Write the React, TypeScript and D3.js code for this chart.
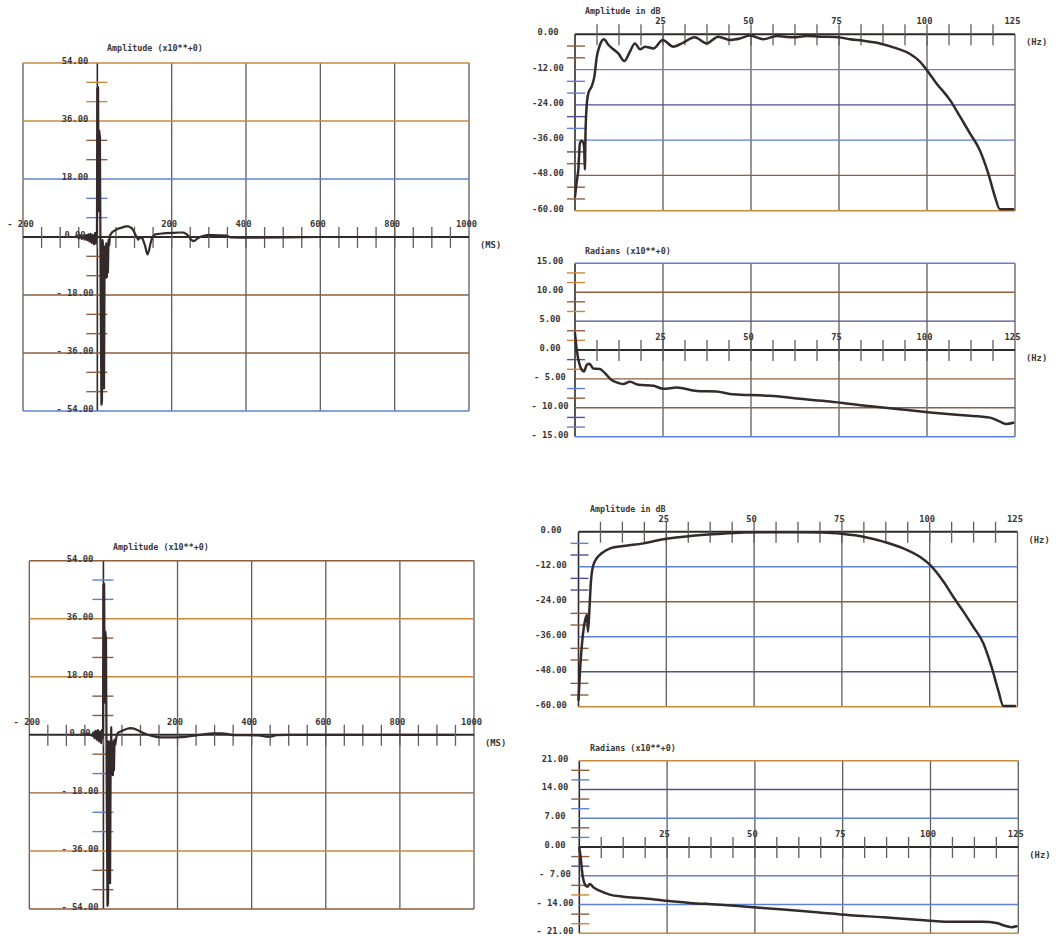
import React from 'react';
import * as d3 from 'd3';

// ---------- DATA ----------
// Impulse response 1: [time ms, amplitude]
const IMPULSE_1: [number, number][] = [
  [-60, 0], [-55, 0.3], [-50, -0.4], [-46, 0.5], [-42, -0.6], [-38, 0.4], [-34, -0.8], [-30, 0.6],
  [-27, -1], [-24, 0.8], [-21, -1.4], [-18, 1], [-15, -1.8], [-12, 0.6], [-9, -2.2], [-6, 1.2],
  [-4, -2], [-2, 0.5], [-1, 2], [0, 46], [2, 46.5], [3.5, 8], [5, 33], [7, 31], [9, -18],
  [11, -52], [12.5, -51], [14, -1], [16, -3], [18, -47], [19.5, -10], [21, -3], [22.5, -12.5],
  [24, -2], [25.5, -12.5], [27, -3], [28.5, -11], [30, -1], [32, -2.5], [34, 0.5],
  [40, 1.5], [48, 2.1], [56, 2.6], [66, 2.9], [76, 3.3], [84, 3.3], [92, 2.8], [98, 1.8],
  [104, 0.4], [110, -0.8], [116, -0.1], [122, -0.6], [128, -2.5], [132, -4.5], [135, -5.4],
  [139, -4.2], [143, -2.0], [148, 0], [155, 0.8], [168, 1.0], [185, 1.2], [205, 1.3], [220, 1.4],
  [232, 1.4], [240, 0.9], [247, 0.1], [252, -0.8], [258, -1.3], [264, -1.0], [270, -0.4],
  [278, 0.1], [286, 0.4], [295, 0.6], [310, 0.6], [330, 0.5], [348, 0.4], [358, -0.1],
  [380, -0.2], [420, -0.2], [500, -0.1], [600, 0], [700, 0], [800, 0], [900, 0], [945, 0],
];

// Magnitude 1: [Hz, dB]
const MAGNITUDE_1: [number, number][] = [
  [0, -55.2], [0.5, -50], [0.95, -46], [1.4, -37], [1.9, -36.2], [2.4, -37], [2.6, -38.5],
  [2.8, -46], [3.0, -33], [3.3, -24.6], [3.8, -20], [4.7, -17.8], [5.5, -14.4], [6.2, -7.6],
  [7.1, -3.6], [8.2, -1.7], [9.5, -3.6], [10.9, -5.1], [12.3, -6.5], [14, -9.1], [15.6, -5.9],
  [17, -3.1], [18.5, -5.1], [19.9, -4.2], [22.3, -4.8], [24.9, -1.9], [27.9, -4.2], [30.8, -2.8],
  [34, -1.0], [37.4, -3.1], [40.7, -0.8], [44, -1.9], [46.9, -1.4], [49.7, -0.45], [53.5, -1.7],
  [57.3, -0.6], [62, -1.0], [65.8, -0.6], [70.5, -0.8], [74.8, -1.0], [78.1, -1.7], [81.9, -2.2],
  [86.6, -3.1], [91.4, -4.8], [95.2, -6.7], [98, -9.3], [99.9, -12.1], [102.7, -16.7],
  [106.5, -22.3], [109.4, -28], [112.2, -33.7], [115, -39.4], [117.4, -47.3], [119.3, -55.2],
  [120.7, -59.5], [124.5, -59.5],
];

// Phase 1: [Hz, radians]
const PHASE_1: [number, number][] = [
  [0, 2.9], [0.5, 0], [1.2, -2.3], [1.9, -3.4], [2.6, -3.7], [3.3, -2.6], [4.1, -2.4], [5.2, -3.2],
  [7.1, -3.3], [8.5, -4.0], [10.4, -5.2], [12.3, -5.7], [13.7, -5.9], [15.6, -5.5], [18, -6.0],
  [22.3, -6.2], [25.1, -6.7], [28.9, -6.5], [34.6, -7.1], [40.2, -7.2], [44, -7.6], [49.7, -7.8],
  [55.4, -7.9], [63, -8.4], [72.4, -8.9], [81.9, -9.6], [91.4, -10.2], [100.9, -10.8],
  [110.3, -11.3], [117.9, -11.7], [120.7, -12.4], [122.6, -12.8], [124.5, -12.6],
];

// Impulse response 2: [time ms, amplitude]
const IMPULSE_2: [number, number][] = [
  [-60, 0], [-40, 0.2], [-30, -0.3], [-27, 0.8], [-24, -1], [-21, 1.2], [-18, -1.5], [-15, 1.5],
  [-12, -2], [-9, 1], [-6, -2.5], [-4, 1.5], [-2, -1], [-1, 2], [0, 46.5], [2, 46.8], [3.5, 10],
  [5, 32], [7, 30], [9, -20], [11, -53], [12.5, -52], [14, -2], [16, -3], [18, -46], [19.5, -9],
  [21, 2.3], [22.5, -12], [24, -3], [25.5, -12.5], [27, -2], [28.5, -11], [30, -1.5], [32, -3],
  [36, 0], [40, 0.7], [54, 1.4], [64, 1.9], [72, 2.1], [80, 2.0], [90, 1.6],
  [100, 1.0], [108, 0.6], [118, 0.1], [126, -0.2], [140, -0.6], [155, -0.8], [175, -0.8],
  [200, -0.8], [224, -0.6], [240, -0.3], [260, 0], [280, 0.3], [296, 0.5], [320, 0.5],
  [332, 0.3], [350, -0.1], [380, -0.1], [420, -0.2], [440, -0.6], [455, -0.5], [466, -0.1],
  [500, 0], [600, 0], [700, 0], [800, 0], [900, 0], [945, 0],
];

// Magnitude 2: [Hz, dB]
const MAGNITUDE_2: [number, number][] = [
  [0, -57.7], [0.5, -46.3], [1.1, -37.1], [1.9, -30.3], [2.4, -28.6], [2.7, -34.3], [3.1, -26.9],
  [3.5, -17.7], [4.1, -12], [5.2, -9.1], [6.6, -7.4], [9, -5.7], [12.8, -4.9], [18.5, -4.0],
  [24.2, -2.6], [31.8, -1.5], [39.4, -0.8], [47, -0.3], [54.6, -0.2], [62.1, -0.2], [69.7, -0.3],
  [75.4, -0.8], [81.1, -1.7], [86.8, -3.4], [92.5, -5.7], [97.2, -8.6], [100.1, -11.4],
  [103.9, -17.1], [106.7, -22.3], [109.6, -27.4], [112.4, -32.6], [115.3, -38.3], [117.6, -46.3],
  [119.5, -54.3], [121, -59.8], [124.3, -59.8],
];

// Phase 2: [Hz, radians]
const PHASE_2: [number, number][] = [
  [0, -0.2], [0.4, -2.6], [0.9, -6.7], [1.6, -9.1], [2.3, -9.7], [3.0, -9.0], [4.0, -9.8],
  [5.9, -10.7], [8.7, -11.6], [12.5, -12.1], [18.2, -12.5], [23.9, -13.0], [31.5, -13.6],
  [39.1, -14.0], [48.6, -14.6], [58.1, -15.2], [67.6, -15.9], [77.1, -16.6], [86.6, -17.1],
  [96.1, -17.7], [105.5, -18.2], [115, -18.2], [118.8, -18.5], [121.7, -19.3], [123.1, -19.5],
  [124.5, -19.3],
];

// Tick labels
const TIME_LABEL_VALUES = [-200, 200, 400, 600, 800, 1000];
const TIME_LABELS = ['- 200', '200', '400', '600', '800', '1000'];
const FREQ_LABEL_VALUES = [25, 50, 75, 100, 125];
const FREQ_LABELS = ['25', '50', '75', '100', '125'];
const AMP_VALUES = [54, 36, 18, 0, -18, -36, -54];
const AMP_LABELS = ['54.00', '36.00', '18.00', '0.00', '- 18.00', '- 36.00', '- 54.00'];
const DB_VALUES = [0, -12, -24, -36, -48, -60];
const DB_LABELS = ['0.00', '-12.00', '-24.00', '-36.00', '-48.00', '-60.00'];
const PHASE1_VALUES = [15, 10, 5, 0, -5, -10, -15];
const PHASE1_LABELS = ['15.00', '10.00', '5.00', '0.00', '- 5.00', '- 10.00', '- 15.00'];
const PHASE2_VALUES = [21, 14, 7, 0, -7, -14, -21];
const PHASE2_LABELS = ['21.00', '14.00', '7.00', '0.00', '- 7.00', '- 14.00', '- 21.00'];

const TITLE_AMP = 'Amplitude (x10**+0)';
const TITLE_DB = 'Amplitude in dB';
const TITLE_RAD = 'Radians (x10**+0)';

// ---------- STYLE ----------
const OR = '#c98a3e';
const BR = '#8e5e3e';
const BL = '#6080d2';
const NV = '#4b5192';
const AX = '#2f2a2a';
const VG = '#5e5e5e';
const CURVE = '#352a2a';
const TEXT = '#3a3636';
const FONT = '"DejaVu Sans Mono", monospace';

interface PanelCfg {
  left: number; right: number; top: number; bottom: number;
  xDomain: [number, number]; yDomain: [number, number];
  xGridStep: number; yGridStep: number;
  xTickStep: number; xTickFirst: number; xTickLast: number;
  xLabelValues: number[]; xLabels: string[];
  yValues: number[]; yLabels: string[]; yLabelX: number;
  gridColors: string[]; tickColors: string[];
  tickLeft: number; tickRight: number;
  title: string; titleX: number; titleY: number;
  unit: string;
  data: [number, number][];
  curveWidth: number;
  smooth: boolean;
}

const TIME_PANEL = {
  xDomain: [-200, 1000] as [number, number], xGridStep: 200,
  xTickStep: 50, xTickFirst: -150, xTickLast: 950,
  xLabelValues: TIME_LABEL_VALUES, xLabels: TIME_LABELS,
  yDomain: [-54, 54] as [number, number], yGridStep: 18,
  yValues: AMP_VALUES, yLabels: AMP_LABELS,
  tickLeft: -11, tickRight: 10,
  title: TITLE_AMP, unit: '(MS)', curveWidth: 2.2, smooth: false,
};
const FREQ_PANEL = {
  xDomain: [0, 125] as [number, number], xGridStep: 25,
  xTickStep: 6.25, xTickFirst: 6.25, xTickLast: 118.75,
  xLabelValues: FREQ_LABEL_VALUES, xLabels: FREQ_LABELS,
  tickLeft: -8, tickRight: 10,
  unit: '(Hz)', curveWidth: 2.5, smooth: true,
};

const PANELS: PanelCfg[] = [
  {
    ...TIME_PANEL, left: 23, right: 469, top: 63, bottom: 411, yLabelX: 75,
    gridColors: [OR, OR, BL, AX, BR, BR, BL],
    tickColors: [OR, OR, BR, BR, BL, BL, BR, BR, BR, BR, BR, BR],
    titleX: 107, titleY: 51, data: IMPULSE_1,
  },
  {
    ...FREQ_PANEL, left: 575, right: 1015, top: 34.3, bottom: 210.7,
    yDomain: [-60, 0], yGridStep: 12, yValues: DB_VALUES, yLabels: DB_LABELS, yLabelX: 548,
    gridColors: [AX, BL, NV, BL, BR, OR],
    tickColors: [BR, BR, BL, BL, NV, BL, NV, BR, BR, BR],
    title: TITLE_DB, titleX: 585, titleY: 14, data: MAGNITUDE_1,
  },
  {
    ...FREQ_PANEL, left: 575, right: 1015, top: 263.3, bottom: 436.7,
    yDomain: [-15, 15], yGridStep: 5, yValues: PHASE1_VALUES, yLabels: PHASE1_LABELS, yLabelX: 550,
    gridColors: [BL, BR, NV, AX, BR, BR, BL],
    tickColors: [OR, OR, BR, OR, BR, OR, NV, OR, BL, BR, NV, BL],
    title: TITLE_RAD, titleX: 585, titleY: 254, data: PHASE_1,
  },
  {
    ...TIME_PANEL, left: 29.3, right: 474, top: 560.7, bottom: 909, yLabelX: 80,
    gridColors: [BR, OR, OR, AX, BR, OR, BR],
    tickColors: [BL, BL, BR, BR, BR, BR, BR, BL, BL, BL, BR, BR],
    titleX: 113, titleY: 550, data: IMPULSE_2,
  },
  {
    ...FREQ_PANEL, left: 578.5, right: 1017.5, top: 531.7, bottom: 706.7,
    yDomain: [-60, 0], yGridStep: 12, yValues: DB_VALUES, yLabels: DB_LABELS, yLabelX: 551,
    gridColors: [AX, BL, BR, BL, NV, OR],
    tickColors: [BL, NV, NV, NV, BR, BR, BR, BR, BR, BR],
    title: TITLE_DB, titleX: 590, titleY: 511.5, data: MAGNITUDE_2,
  },
  {
    ...FREQ_PANEL, left: 579.3, right: 1018.3, top: 760.7, bottom: 933.3,
    yDomain: [-21, 21], yGridStep: 7, yValues: PHASE2_VALUES, yLabels: PHASE2_LABELS, yLabelX: 555,
    gridColors: [OR, NV, BL, AX, BL, BL, OR],
    tickColors: [BR, BL, BR, BL, BR, BL, BR, NV, BR, OR, BR, OR],
    title: TITLE_RAD, titleX: 590, titleY: 750.5, data: PHASE_2,
  },
];

function Panel({ cfg }: { cfg: PanelCfg }) {
  const x = d3.scaleLinear().domain(cfg.xDomain).range([cfg.left, cfg.right]);
  const y = d3.scaleLinear().domain(cfg.yDomain).range([cfg.bottom, cfg.top]);
  const y0 = y(0);
  const ax = x(0);
  const line = d3.line<[number, number]>().x(d => x(d[0])).y(d => y(d[1]))
    .curve(cfg.smooth ? d3.curveMonotoneX : d3.curveLinear);

  const xGrid = d3.range(cfg.xDomain[0], cfg.xDomain[1] + cfg.xGridStep / 2, cfg.xGridStep);
  const xTicks = d3.range(cfg.xTickFirst, cfg.xTickLast + cfg.xTickStep / 2, cfg.xTickStep);
  const nInt = Math.round((cfg.yDomain[1] - cfg.yDomain[0]) / cfg.yGridStep);
  const yTicks = d3.range(1, nInt * 3)
    .filter(i => i % 3 !== 0)
    .map(i => cfg.yDomain[1] - (i * cfg.yGridStep) / 3);

  const txt = { fontFamily: FONT, fontSize: 8.8, fontWeight: 700, fill: TEXT } as const;

  return (
    <g>
      {xGrid.map(v => (
        <line key={'vx' + v} x1={x(v)} x2={x(v)} y1={cfg.top} y2={cfg.bottom}
          stroke={v === 0 ? AX : VG} strokeWidth={v === 0 ? 1.6 : 1.3} />
      ))}
      {cfg.yValues.map((v, i) => v === 0 ? null : (
        <line key={'hy' + v} x1={cfg.left} x2={cfg.right} y1={y(v)} y2={y(v)}
          stroke={cfg.gridColors[i]} strokeWidth={1.4} />
      ))}
      {yTicks.map((v, i) => (
        <line key={'yt' + i} x1={ax + cfg.tickLeft} x2={ax + cfg.tickRight} y1={y(v)} y2={y(v)}
          stroke={cfg.tickColors[i] || BR} strokeWidth={1.4} />
      ))}
      <line x1={cfg.left} x2={cfg.right} y1={y0} y2={y0} stroke={AX} strokeWidth={2} />
      {xTicks.map((v, i) => (
        <line key={'xt' + i} x1={x(v)} x2={x(v)} y1={y0 - 10} y2={y0 + 11} stroke={VG} strokeWidth={1.3} />
      ))}
      <path d={line(cfg.data) || ''} fill="none" stroke={CURVE} strokeWidth={cfg.curveWidth}
        strokeLinejoin="round" strokeLinecap="round" />
      {cfg.xLabelValues.map((v, i) => (
        <text key={'xl' + v} x={x(v) - 2.5} y={y0 - 10} textAnchor="middle" {...txt}>{cfg.xLabels[i]}</text>
      ))}
      <text x={cfg.right + 11} y={y0 + 11} {...txt}>{cfg.unit}</text>
      {cfg.yValues.map((v, i) => (
        <text key={'yl' + v} x={cfg.yLabelX} y={y(v) + 1} textAnchor="middle" {...txt}>{cfg.yLabels[i]}</text>
      ))}
      <text x={cfg.titleX} y={cfg.titleY} {...txt} fontSize={8.4}>{cfg.title}</text>
    </g>
  );
}

export default function App() {
  return (
    <div>
      <style>{'body{margin:0;background:#fff;}'}</style>
      <svg width={1060} height={936} viewBox="0 0 1060 936" style={{ display: 'block', background: '#fff' }}>
        <rect x={0} y={0} width={1060} height={936} fill="#ffffff" />
        {PANELS.map((p, i) => <Panel key={i} cfg={p} />)}
      </svg>
    </div>
  );
}
